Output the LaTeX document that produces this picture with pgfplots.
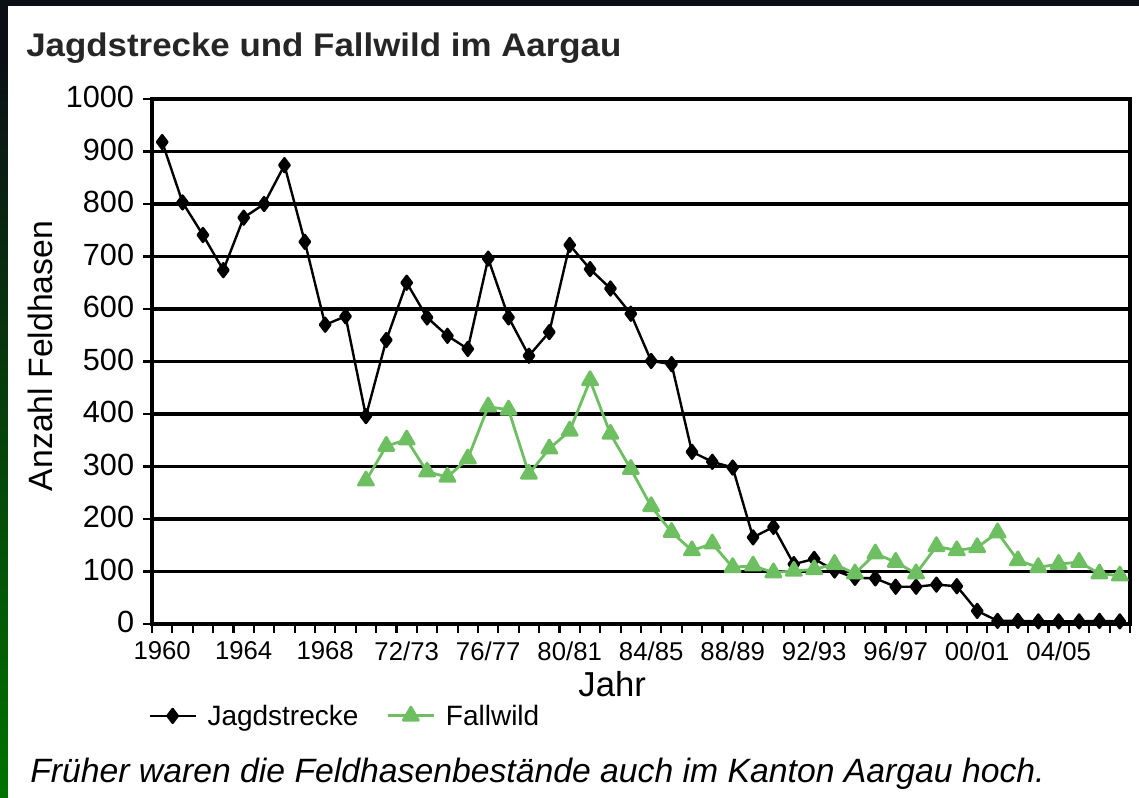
\documentclass[border=0pt]{standalone}
\usepackage{pgfplots}
\usepackage{pgfplotstable}
\pgfplotsset{compat=1.18}
\usepackage{fontspec}
\setmainfont{Liberation Sans}
\definecolor{fallgreen}{RGB}{110,190,98}
\definecolor{bgdark}{RGB}{12,16,22}

\pgfplotstableread{
i v
0 918
1 803
2 741
3 674
4 774
5 800
6 874
7 728
8 570
9 586
10 396
11 541
12 650
13 584
14 549
15 524
16 696
17 584
18 511
19 556
20 722
21 676
22 639
23 591
24 501
25 495
26 328
27 309
28 298
29 165
30 185
31 114
32 124
33 102
34 88
35 87
36 71
37 71
38 75
39 72
40 25
41 6
42 6
43 5
44 5
45 5
46 6
47 5
}\jagd

\pgfplotstableread{
i v
10 273
11 339
12 351
13 290
14 280
15 315
16 414
17 408
18 286
19 334
20 368
21 464
22 362
23 295
24 224
25 175
26 140
27 153
28 108
29 111
30 98
31 101
32 104
33 114
34 96
35 134
36 118
37 96
38 148
39 140
40 146
41 174
42 121
43 108
44 114
45 118
46 96
47 92
}\fall

\begin{document}
\begin{tikzpicture}[x=0.75pt,y=0.75pt]
\useasboundingbox (0,0) rectangle (1139,-797);
\fill[bgdark] (0,0) rectangle (1139,-797);
\shade[top color=bgdark, bottom color=green!45!black] (0,-60) rectangle (8,-797);
\fill[white] (8,-6) rectangle (1139,-797);
\node[anchor=base west, font=\fontsize{24.5}{28}\selectfont\bfseries, text=black!85, inner sep=0pt] at (26,-56) {\scalebox{1.068}[1]{Jagdstrecke und Fallwild im Aargau}};
\begin{axis}[
  at={(114pt,-468pt)}, anchor=south west,
  scale only axis, width=733.5pt, height=393.75pt,
  xmin=-0.5, xmax=47.5, ymin=0, ymax=1000,
  axis line style={line width=2.3pt, black},
  ytick={0,100,...,1000},
  ymajorgrids, grid style={line width=2.3pt, black},
  ytick pos=left, xtick pos=bottom,
  tick align=outside,
  major tick length=6.5pt,
  tick style={line width=1.6pt, black},
  xtick={-0.5,0.5,...,47.5},
  xticklabel={\relax},
  extra x ticks={0,4,...,44},
  extra x tick labels={1960,1964,1968,72/73,76/77,80/81,84/85,88/89,92/93,96/97,00/01,04/05},
  extra x tick style={major tick length=0pt, xticklabel style={yshift=-13pt}},
  /pgf/number format/assume math mode=true,
  /pgf/number format/1000 sep={},
  xticklabel style={font=\fontsize{19.3}{22}\selectfont, inner sep=0pt},
  yticklabel style={font=\fontsize{23}{26}\selectfont, inner sep=0pt, xshift=-6.75pt, yshift=1.5pt},
  xlabel={Jahr},
  xlabel style={at={(axis description cs:0.4705,-0.139)}, anchor=base, font=\fontsize{26}{30}\selectfont, inner sep=0pt},
  ylabel={Anzahl Feldhasen},
  ylabel style={at={(axis description cs:-0.1145,0.5105)}, anchor=center, font=\fontsize{25.3}{29}\selectfont, inner sep=0pt},
  legend columns=2,
  legend style={at={(axis description cs:-0.008,-0.175)}, anchor=west, draw=none, fill=none, font=\fontsize{21}{24}\selectfont, /tikz/every even column/.append style={column sep=19pt}},
  legend image code/.code={\draw[mark repeat=2,mark phase=2,#1] plot coordinates {(0pt,0pt) (17.25pt,0pt) (34.5pt,0pt)}; \path (40.5pt,0pt);},
]
\addplot[black, line width=1.8pt, line join=round, mark=diamond*, mark size=5.2pt, mark options={solid}] table[x=i,y=v]{\jagd};
\addlegendentry{Jagdstrecke}
\addplot[fallgreen, line width=2.1pt, line join=round, mark=triangle*, mark size=6.5pt, mark options={solid}] table[x=i,y=v]{\fall};
\addlegendentry{Fallwild}
\end{axis}
\node[anchor=base west, font=\fontsize{25.3}{29}\selectfont\itshape, inner sep=0pt] at (30,-782) {Früher waren die Feldhasenbestände auch im Kanton Aargau hoch.};
\end{tikzpicture}
\end{document}
